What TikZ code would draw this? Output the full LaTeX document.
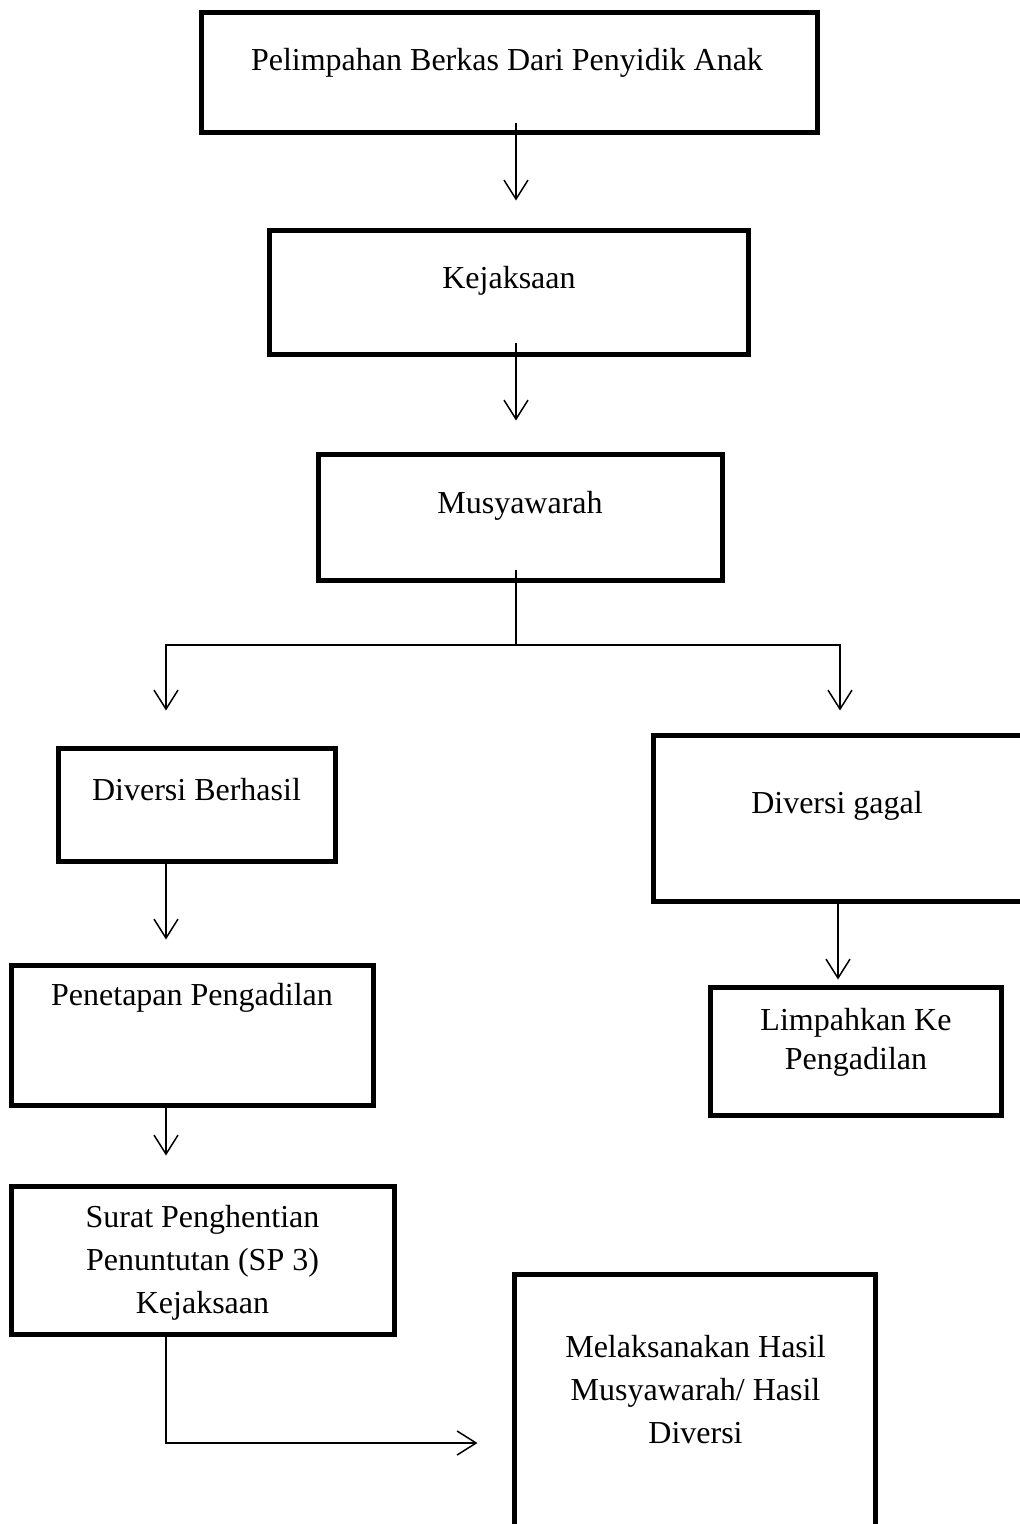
\documentclass[tikz,border=0pt]{standalone}
\usepackage{fontspec}
\setmainfont{Liberation Serif}
\usetikzlibrary{arrows.meta}
\tikzset{
  boxnode/.style={draw=black, line width=5pt, rectangle, inner sep=0pt},
  txt/.style={anchor=north, align=center, inner sep=0pt, font=\fontsize{32}{43}\selectfont},
  conn/.style={draw=black, line width=1.5pt},
  arr/.style={conn, -{Straight Barb[length=19pt,width=24pt,line width=1.5pt]}},
}
\begin{document}
\begin{tikzpicture}[x=1pt,y=-1pt]
\useasboundingbox (0,0) rectangle (1020,1524);
% boxes
\node[boxnode, minimum width=616pt, minimum height=120pt] (b1) at (509.5,72.5) {};
\node[boxnode, minimum width=479pt, minimum height=124pt] (b2) at (509,292.5) {};
\node[boxnode, minimum width=404pt, minimum height=126pt] (b3) at (520.5,517.5) {};
\node[boxnode, minimum width=277pt, minimum height=113pt] (b4) at (197,805) {};
\node[boxnode, minimum width=369pt, minimum height=166pt] (b5) at (838,818.5) {};
\node[boxnode, minimum width=291pt, minimum height=128pt] (b6) at (856,1051.5) {};
\node[boxnode, minimum width=362pt, minimum height=140pt] (b7) at (192.5,1035.5) {};
\node[boxnode, minimum width=383pt, minimum height=148pt] (b8) at (203,1260.5) {};
\node[boxnode, minimum width=361pt, minimum height=283pt] (b9) at (695,1416) {};
% texts
\node[txt] (t1) at (507,39.9) {\strut Pelimpahan Berkas Dari Penyidik Anak};
\node[txt] (t2) at (509,257.9) {\strut Kejaksaan};
\node[txt] (t3) at (520,482.9) {\strut Musyawarah};
\node[txt] (t4) at (196.5,769.9) {\strut Diversi Berhasil};
\node[txt] (t5) at (837,782.9) {\strut Diversi gagal};
\node[txt, font=\fontsize{32}{39}\selectfont] (t6) at (856,1002.7) {\strut Limpahkan Ke\\Pengadilan};
\node[txt] (t7) at (192,974.9) {\strut Penetapan Pengadilan};
\node[txt] (t8) at (202.5,1196.9) {\strut Surat Penghentian\\Penuntutan (SP 3)\\Kejaksaan};
\node[txt] (t9) at (695.5,1326.9) {\strut Melaksanakan Hasil\\Musyawarah/ Hasil\\Diversi};
% connectors
\draw[arr] ([xshift=6.5pt,yshift=12.5pt]b1.south) -- ([xshift=7pt,yshift=27.5pt]b2.north);
\draw[arr] ([xshift=7pt,yshift=14.5pt]b2.south) -- ([xshift=-4.5pt,yshift=31.5pt]b3.north);
\coordinate (j) at (516,645);
\draw[conn] ([xshift=-4.5pt,yshift=13.5pt]b3.south) -- (j);
\draw[arr] (j) -| ([xshift=-31pt,yshift=35.5pt]b4.north);
\draw[arr] (j) -| ([xshift=2pt,yshift=22.5pt]b5.north);
\draw[arr] ([xshift=-31pt]b4.south) -- ([xshift=-26.5pt,yshift=23.5pt]b7.north);
\draw[arr] ([xshift=0pt]b5.south) -- ([xshift=-18pt,yshift=5.5pt]b6.north);
\draw[arr] ([xshift=-26.5pt]b7.south) -- ([xshift=-37pt,yshift=28.5pt]b8.north);
\draw[arr] ([xshift=-37pt]b8.south) |- ([xshift=-34.5pt,yshift=-27pt]b9.west);
\end{tikzpicture}
\end{document}
